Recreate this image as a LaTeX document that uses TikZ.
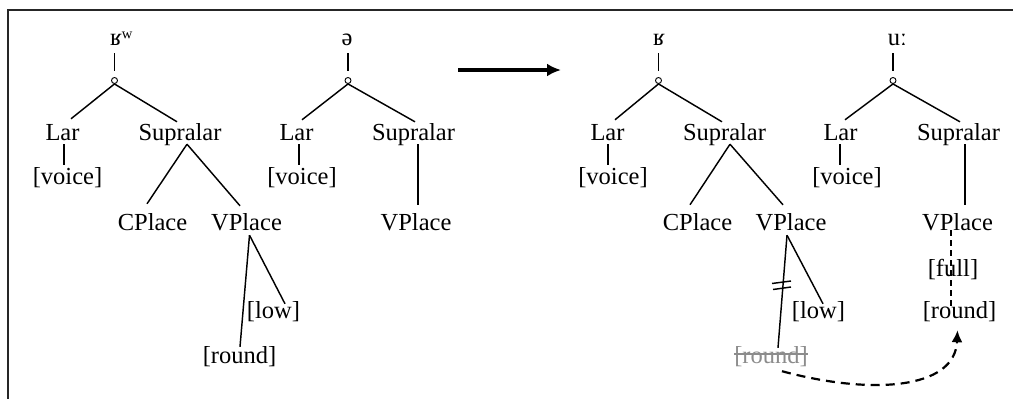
\documentclass[tikz,border=0pt]{standalone}
\usepackage{fontspec}
\setmainfont{Liberation Serif}
\usetikzlibrary{calc,arrows.meta}
\begin{document}
\begin{tikzpicture}[x=1pt,y=-1pt,
  edge/.style={line width=1.45pt},
  lbl/.style={inner sep=0pt,text height=17pt,text depth=5pt,anchor=base,
    font=\fontsize{24.5}{29}\selectfont},
  seg/.style={inner sep=0pt,anchor=base,font=\fontsize{24.5}{29}\selectfont},
  dot/.style={circle,draw,inner sep=0pt,minimum size=6pt,line width=0.9pt},
  gone/.style={lbl,text=black!45}]
\useasboundingbox (0,0) rectangle (1013,399);

% frame
\coordinate (fTL) at (8,10);
\coordinate (fTR) at (1013,10);
\coordinate (fBL) at (8,399);
\draw[line width=1.3pt,black!85] (fTR) -- (fTL) -- (fBL);

% ---------- tree 1: /ʁʷ/ ----------
\node[seg] (t1) at (116,45) {ʁ\rlap{ʷ}};
\node[dot] (c1) at (114.5,80.5) {};
\node[lbl] (lar1) at (62.5,140) {Lar};
\node[lbl] (sup1) at (180,140) {Supralar};
\node[lbl] (voi1) at (67.5,184) {[voice]};
\node[lbl] (cp1) at (152.5,230) {CPlace};
\node[lbl] (vp1) at (246.5,230) {VPlace};
\node[lbl] (low1) at (273.5,318) {[low]};
\node[lbl] (rnd1) at (239.5,363) {[round]};
\draw[edge] ($(c1.north |- t1.base)+(0,8)$) -- ($(c1.north)+(0,-6.5)$);
\draw[edge] (c1.south) -- ($(lar1.north)+(8.5,-4)$);
\draw[edge] (c1.south) -- ($(sup1.north)+(-3,-1)$);
\draw[edge] ($(lar1.south)+(1.5,-1)$) -- ($(voi1.north)+(-3.5,-2)$);
\draw[edge] ($(sup1.south)+(7,-1)$) -- ($(cp1.north)+(-5.5,-9)$);
\draw[edge] ($(sup1.south)+(7,-1)$) -- ($(vp1.north)+(-6.5,-7)$);
\draw[edge] ($(vp1.south)+(3,0)$) -- ($(low1.north)+(11.5,3)$);
\draw[edge] ($(vp1.south)+(3,0)$) -- ($(rnd1.north)+(0.5,1)$);

% ---------- tree 2: /ə/ ----------
\node[seg] (t2) at (347,45) {ə};
\node[dot] (c2) at (348,80.5) {};
\node[lbl] (lar2) at (296.5,140) {Lar};
\node[lbl] (sup2) at (413.5,140) {Supralar};
\node[lbl] (voi2) at (302,184) {[voice]};
\node[lbl] (vp2) at (416,230) {VPlace};
\draw[edge] ($(c2.north |- t2.base)+(0,8)$) -- ($(c2.north)+(0,-6.5)$);
\draw[edge] (c2.south) -- ($(lar2.north)+(5.5,-3)$);
\draw[edge] (c2.south) -- ($(sup2.north)+(1.5,-1)$);
\draw[edge] ($(lar2.south)+(2.5,-1)$) -- ($(voi2.north)+(-3,-2)$);
\draw[edge] ($(sup2.south)+(4.5,-1)$) -- ($(vp2.north)+(2,-8)$);

% ---------- the change ----------
\coordinate (aS) at (458,70);
\coordinate (aE) at (561,70);
\draw[line width=3.2pt,-{Latex[length=14pt,width=13pt]}] (aS) -- (aE);

% ---------- tree 3: /ʁ/ ----------
\node[seg] (t3) at (659,45) {ʁ};
\node[dot] (c3) at (658.5,80.5) {};
\node[lbl] (lar3) at (607.5,140) {Lar};
\node[lbl] (sup3) at (724.5,140) {Supralar};
\node[lbl] (voi3) at (613,184) {[voice]};
\node[lbl] (cp3) at (697.5,230) {CPlace};
\node[lbl] (vp3) at (791,230) {VPlace};
\node[lbl] (low3) at (818.5,318) {[low]};
\node[gone] (rs3) at (771,363) {[round]};
\draw[black!45,line width=1.1pt] ($(rs3.base west)+(0,-9)$) -- ($(rs3.base east)+(0,-9)$);
\draw[edge] ($(c3.north |- t3.base)+(0,8)$) -- ($(c3.north)+(0,-6.5)$);
\draw[edge] (c3.south) -- ($(lar3.north)+(7.5,-3)$);
\draw[edge] (c3.south) -- ($(sup3.north)+(-2.5,-1)$);
\draw[edge] ($(lar3.south)+(0.5,-1)$) -- ($(voi3.north)+(-5,-2)$);
\draw[edge] ($(sup3.south)+(5.5,-1)$) -- ($(cp3.north)+(-7.5,-8)$);
\draw[edge] ($(sup3.south)+(5.5,-1)$) -- ($(vp3.north)+(-8,-8)$);
\draw[edge] ($(vp3.south)+(-4,0)$) -- ($(low3.north)+(4.5,3)$);
\draw[edge] ($(vp3.south)+(-4,0)$) -- ($(rs3.north)+(7,2)$);
% delinking marks
\coordinate (h1a) at (772,283.5);
\coordinate (h1b) at (791,281);
\coordinate (h2a) at (773,289.5);
\coordinate (h2b) at (791,287);
\draw[edge] (h1a) -- (h1b);
\draw[edge] (h2a) -- (h2b);

% ---------- tree 4: /uː/ ----------
\node[seg] (t4) at (894,45) {u\rlap{ː}};
\node[dot] (c4) at (893,80.5) {};
\node[lbl] (lar4) at (840.5,140) {Lar};
\node[lbl] (sup4) at (958.5,140) {Supralar};
\node[lbl] (voi4) at (847,184) {[voice]};
\node[lbl] (vp4) at (957.5,230) {VPlace};
\node[lbl] (full4) at (953,276) {[full]};
\node[lbl] (rnd4) at (959.5,318) {[round]};
\draw[edge] ($(c4.north |- t4.base)+(0,8)$) -- ($(c4.north)+(0,-6.5)$);
\draw[edge] (c4.south) -- ($(lar4.north)+(4.5,-3)$);
\draw[edge] (c4.south) -- ($(sup4.north)+(1.5,-1)$);
\draw[edge] ($(lar4.south)+(-0.5,-1)$) -- ($(voi4.north)+(-7,-2)$);
\draw[edge] ($(sup4.south)+(6.5,-1)$) -- ($(vp4.north)+(7.5,-8)$);
\draw[line width=1.3pt,dash pattern=on 6pt off 4pt]
  ($(vp4.south)+(-6.5,-5)$) -- ($(rnd4.north)+(-8.5,6)$);

% spreading of [round]
\draw[line width=2.2pt,dash pattern=on 9pt off 6pt,-{Latex[length=12pt,width=11pt]}]
  ($(rs3.south)+(11,3)$) .. controls (870,395) and (955,390) .. ($(rnd4.south)+(-2,7)$);
\end{tikzpicture}
\end{document}
